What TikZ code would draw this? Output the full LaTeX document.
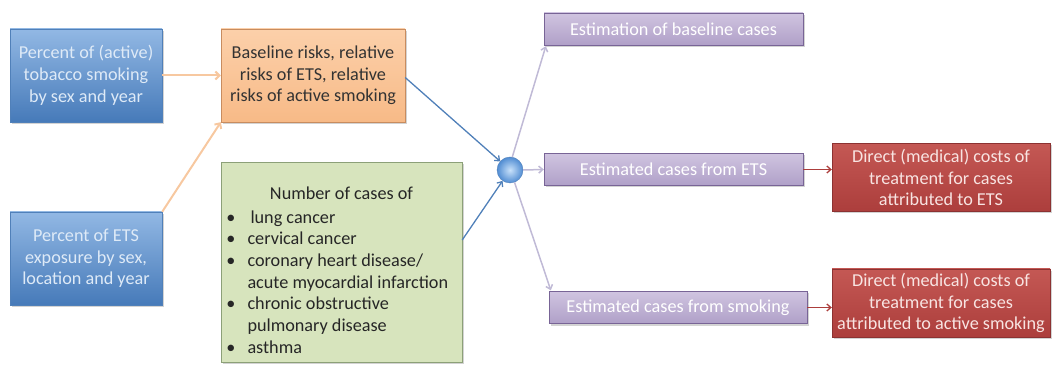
\documentclass[tikz,border=0pt]{standalone}
\usepackage{fontspec}
\setmainfont{Carlito}
\usepackage{xcolor}
\usepackage{tikz}
\usetikzlibrary{arrows.meta, shadows}
\definecolor{BlueTop}{RGB}{146,184,228}
\definecolor{BlueBot}{RGB}{70,122,185}
\definecolor{BlueLine}{RGB}{80,128,185}
\definecolor{BlueText}{RGB}{222,234,247}
\definecolor{PeachTop}{RGB}{252,208,170}
\definecolor{PeachBot}{RGB}{247,186,135}
\definecolor{PeachLine}{RGB}{200,140,95}
\definecolor{PeachArrow}{RGB}{247,200,160}
\definecolor{SageFill}{RGB}{215,228,189}
\definecolor{SageLine}{RGB}{140,160,120}
\definecolor{LilacTop}{RGB}{208,196,224}
\definecolor{LilacBot}{RGB}{176,160,200}
\definecolor{LilacLine}{RGB}{120,100,150}
\definecolor{LilacArrow}{RGB}{192,186,214}
\definecolor{BrickTop}{RGB}{196,88,84}
\definecolor{BrickBot}{RGB}{172,62,60}
\definecolor{BrickLine}{RGB}{140,50,50}
\definecolor{BrickText}{RGB}{248,228,226}
\definecolor{HubInner}{RGB}{200,225,250}
\definecolor{HubOuter}{RGB}{80,140,210}

\begin{document}
\begin{tikzpicture}[x=1pt, y={(0pt,-1pt)},
    every node/.style={font=\fontsize{18.2}{21.7}\selectfont, align=center, inner sep=2pt},
    boxshadow/.style={drop shadow={shadow xshift=1.5pt, shadow yshift=-2pt, opacity=0.35}},
    bluebox/.style={boxshadow, draw=BlueLine, top color=BlueTop, bottom color=BlueBot,
        text=BlueText, minimum width=152pt, minimum height=93pt},
    peachbox/.style={boxshadow, draw=PeachLine, top color=PeachTop, bottom color=PeachBot,
        text=black!80, minimum width=184pt, minimum height=93pt},
    sagebox/.style={boxshadow, draw=SageLine, fill=SageFill, text=black!85,
        minimum width=241pt, minimum height=200pt, align=left},
    lilacbox/.style={boxshadow, draw=LilacLine, top color=LilacTop, bottom color=LilacBot,
        text=white, minimum height=32pt},
    brickbox/.style={boxshadow, draw=BrickLine, top color=BrickTop, bottom color=BrickBot,
        text=BrickText, minimum width=218pt, minimum height=68pt},
    peachlink/.style={PeachArrow, line width=2pt, -{Straight Barb[length=4pt, width=8pt]}},
    bluelink/.style={BlueLine, line width=1.3pt, -{Straight Barb[length=4pt, width=7pt]}},
    lilaclink/.style={LilacArrow, line width=1.5pt, -{Straight Barb[length=4pt, width=7pt]}},
    bricklink/.style={BrickBot, line width=1.3pt, -{Straight Barb[length=4pt, width=7pt]}}]

    \useasboundingbox (0,0) rectangle (1052,371);

    %% --- Inputs (left column) ---
    \node[bluebox] (smoking) at (86, 75.5)
        {Percent of (active)\\tobacco smoking\\by sex and year};
    \node[bluebox] (etsexp) at (86, 258.5)
        {Percent of ETS\\exposure by sex,\\location and year};

    %% --- Risks and case counts ---
    \node[peachbox] (risks) at (313, 75.5)
        {Baseline risks, relative\\risks of ETS, relative\\risks of active smoking};
    \node[sagebox] (cases) at (341.5, 262) {%
        \begin{minipage}{234pt}
        \vspace*{16pt}
        \centering Number of cases of\par
        \begin{list}{\textbullet}{\setlength{\leftmargin}{23pt}\setlength{\labelwidth}{12pt}%
            \setlength{\labelsep}{12pt}\setlength{\itemsep}{0pt}\setlength{\topsep}{0pt}%
            \setlength{\parsep}{0pt}\setlength{\itemindent}{0pt}}
        \raggedright
        \item \hspace{3pt}lung cancer
        \item cervical cancer
        \item coronary heart disease/\newline acute myocardial infarction
        \item chronic obstructive\newline pulmonary disease
        \item asthma
        \end{list}
        \end{minipage}};

    %% --- Combination point ---
    \node[circle, minimum size=26pt, inner sep=0pt, draw=BlueLine, thin,
        shading=radial, inner color=HubInner, outer color=HubOuter] (hub) at (510, 170) {};

    %% --- Estimates ---
    \node[lilacbox, minimum width=259pt] (basecases) at (673.5, 29) {Estimation of baseline cases};
    \node[lilacbox, minimum width=259pt] (etscases) at (673.5, 169.5) {Estimated cases from ETS};
    \node[lilacbox, minimum width=258pt] (smkcases) at (678, 307.5) {Estimated cases from smoking};

    %% --- Costs ---
    \node[brickbox] (costets) at (941, 177.5)
        {Direct (medical) costs of\\treatment for cases\\attributed to ETS};
    \node[brickbox] (costsmk) at (941, 303)
        {Direct (medical) costs of\\treatment for cases\\attributed to active smoking};

    %% --- Connectors ---
    \draw[peachlink] (smoking.east) -- (risks.west);
    \draw[peachlink] (etsexp.north east) -- (risks.south west);
    \draw[bluelink] ([yshift=-2pt]risks.east) -- (hub);
    \draw[bluelink] ([yshift=22pt]cases.east) -- (hub);
    \draw[lilaclink] (hub.80) -- ([xshift=2pt, yshift=-1pt]basecases.south west);
    \draw[lilaclink] (hub.east) -- (etscases.west);
    \draw[lilaclink] (hub.-70) -- ([xshift=2pt, yshift=1pt]smkcases.north west);
    \draw[bricklink] (etscases.east) -- (costets.west |- etscases.east);
    \draw[bricklink] (smkcases.east) -- (costsmk.west |- smkcases.east);

\end{tikzpicture}
\end{document}
